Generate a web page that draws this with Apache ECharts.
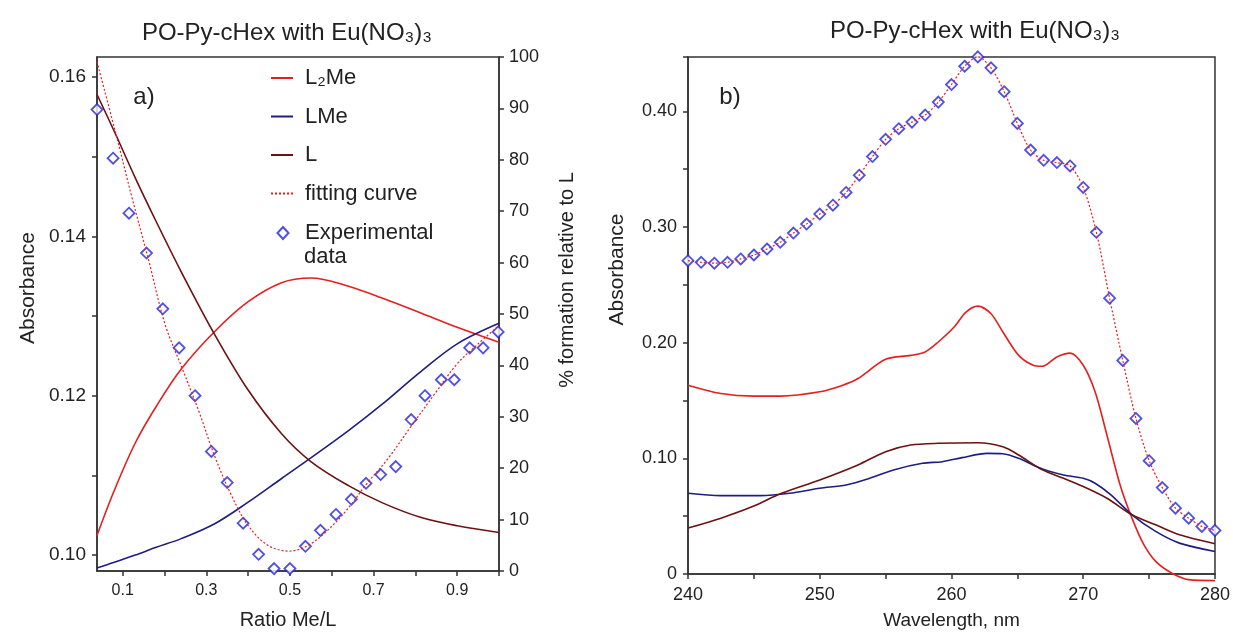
<!DOCTYPE html>
<html><head><meta charset="utf-8">
<script src="https://cdn.jsdelivr.net/npm/echarts@6/dist/echarts.min.js"></script>
<style>html,body{margin:0;padding:0;background:#fff}#c{width:1233px;height:635px}</style>
</head><body><div id="c"></div>
<script>
// ---------- Panel a data ----------
const ratioExp = [0.0385,0.077,0.115,0.157,0.196,0.235,0.273,0.312,0.350,0.388,0.425,0.462,0.500,0.537,0.573,0.610,0.647,0.682,0.717,0.753,0.790,0.823,0.862,0.893,0.930,0.962,0.998];
const absExp   = [0.1559,0.1498,0.1429,0.1379,0.1309,0.1260,0.1200,0.1130,0.1091,0.1040,0.1001,0.0983,0.0983,0.1011,0.1031,0.1051,0.1070,0.1090,0.1101,0.1111,0.1170,0.1200,0.1220,0.1220,0.1260,0.1260,0.1280];
const ratioFit = [0.0385,0.082,0.122,0.162,0.201,0.241,0.281,0.320,0.360,0.400,0.448,0.499,0.543,0.590,0.638,0.686,0.733,0.789,0.850,0.900,0.950,1.0];
const absFit   = [0.1619,0.1532,0.1449,0.1370,0.1290,0.1236,0.1182,0.1124,0.1075,0.1037,0.1012,0.1005,0.1012,0.1031,0.1058,0.1091,0.1120,0.1161,0.1205,0.1240,0.1265,0.1288];
const ratioSpec = [0.0385,0.08,0.13,0.18,0.24,0.32,0.40,0.48,0.55,0.64,0.72,0.81,0.90,1.0];
const pctL2Me  = [6.9,15.7,24.9,32.0,39.3,46.6,52.4,56.1,57.0,55.4,53.1,50.3,47.4,44.5];
const pctLMe   = [0.6,1.7,3.1,4.6,6.3,9.2,13.4,18.0,22.0,27.3,32.4,38.6,44.2,48.2];
const pctL     = [92.7,85.5,76.5,68.0,58.2,46.0,35.2,26.7,21.3,16.6,13.3,10.5,8.8,7.5];
const absTicksA = [0.10,0.11,0.12,0.13,0.14,0.15,0.16];
const absLabelsA = [0.10,0.12,0.14,0.16];
const ratioTicks = [0.1,0.2,0.3,0.4,0.5,0.6,0.7,0.8,0.9,1.0];
const ratioLabels = [0.1,0.3,0.5,0.7,0.9];

// ---------- Panel b data ----------
const wlExp = [240,241,242,243,244,245,246,247,248,249,250,251,252,253,254,255,256,257,258,259,260,261,262,263,264,265,266,267,268,269,270,271,272,273,274,275,276,277,278,279,280];
const absExpB = [0.2709,0.2695,0.2687,0.2695,0.2724,0.2758,0.2810,0.2868,0.2948,0.3026,0.3112,0.3189,0.3299,0.3448,0.3609,0.3758,0.3850,0.3907,0.3968,0.4080,0.4232,0.4390,0.4471,0.4376,0.4170,0.3896,0.3666,0.3577,0.3557,0.3528,0.3342,0.2954,0.2385,0.1847,0.1345,0.0980,0.0747,0.0569,0.0483,0.0411,0.0377];
const wlL2Me = [240,242.5,245,247,250,251.7,252.9,255,256.9,258,259,260.2,261.1,262,263,263.9,265.1,266.2,266.9,268,269,270,270.9,271.8,272.8,273.7,274.6,275.5,276.7,278,280];
const absL2MeB = [0.1632,0.1560,0.1538,0.1538,0.1575,0.1630,0.1690,0.1857,0.1890,0.1920,0.2006,0.2135,0.2265,0.2316,0.2250,0.2092,0.1890,0.1805,0.1796,0.1877,0.1910,0.1805,0.1575,0.1200,0.0770,0.0483,0.0253,0.0109,0.0009,-0.0049,-0.0057];
const wlL = [240,242.5,244.9,247.1,250,252.9,255,256.9,259,262,263.9,265.1,266.9,268.5,270,271.8,273.7,275.5,277.3,280];
const absLB = [0.0397,0.0483,0.0583,0.0698,0.0813,0.0943,0.1058,0.1115,0.1130,0.1135,0.1100,0.1029,0.0900,0.0828,0.0756,0.0655,0.0512,0.0425,0.0339,0.0262];
const wlLMe = [240,242.5,245.5,247.7,250,252,253.8,255.6,257.8,259.3,260.8,262.7,263.9,265.1,266.9,268.5,270,270.9,272.1,273.7,275.5,277.3,280];
const absLMeB = [0.0698,0.0678,0.0678,0.0698,0.0741,0.0770,0.0828,0.0900,0.0957,0.0971,0.1006,0.1043,0.1040,0.1000,0.0908,0.0856,0.0828,0.0785,0.0684,0.0512,0.0368,0.0267,0.0195];

const zip = (xs, ys) => xs.map((x, i) => [x, ys[i]]);

const FONT = "'Liberation Sans', Arial, sans-serif";
const AX = '#333';
const RED = '#e41f1f', NAVY = '#1e1e80', MAROON = '#6d1212', BLUE = '#2424dc';
const axisLine = {show: true, lineStyle: {color: AX, width: 1.5}};
const tick = {show: true, inside: false, length: 5, lineStyle: {color: AX, width: 1.5}};

const chart = echarts.init(document.getElementById('c'), null, {renderer: 'canvas'});
chart.setOption({
  animation: false,
  backgroundColor: '#fff',
  textStyle: {fontFamily: FONT},
  grid: [
    {left: 97, right: 734, top: 57, bottom: 59, show: true, borderColor: AX, borderWidth: 1.5, backgroundColor: 'transparent'},
    {left: 688, right: 16, top: 57, bottom: 59, show: true, borderColor: AX, borderWidth: 1.5, backgroundColor: 'transparent'}
  ],
  graphic: [
    {type: 'text', x: 287, y: 33, style: {text: 'PO-Py-cHex with Eu(NO₃)₃', font: '24px ' + FONT, fill: '#222', textAlign: 'center', textVerticalAlign: 'middle'}},
    {type: 'text', x: 975, y: 31, style: {text: 'PO-Py-cHex with Eu(NO₃)₃', font: '24px ' + FONT, fill: '#222', textAlign: 'center', textVerticalAlign: 'middle'}},
    {type: 'text', x: 144, y: 97, style: {text: 'a)', font: '24px ' + FONT, fill: '#222', textAlign: 'center', textVerticalAlign: 'middle'}},
    {type: 'text', x: 730, y: 97, style: {text: 'b)', font: '24px ' + FONT, fill: '#222', textAlign: 'center', textVerticalAlign: 'middle'}},
    {type: 'text', x: 304, y: 257, style: {text: 'data', font: '22px ' + FONT, fill: '#222', textAlign: 'left', textVerticalAlign: 'middle'}}
  ],
  legend: [
    {
      orient: 'vertical', left: 265, top: 61, itemWidth: 22, itemHeight: 12, itemGap: 14.5,
      selectedMode: false,
      itemStyle: {opacity: 0},
      textStyle: {fontSize: 22, lineHeight: 24, color: '#222', padding: [0, 0, 0, 7]},
      data: ['L₂Me', 'LMe', 'L', 'fitting curve']
    },
    {
      orient: 'vertical', left: 271.5, top: 216, itemWidth: 11, itemHeight: 12,
      selectedMode: false,
      formatter: n => n === 'Experimental data' ? 'Experimental' : n,
      textStyle: {fontSize: 22, lineHeight: 24, color: '#222', padding: [0, 0, 0, 11.5]},
      data: [{name: 'Experimental data', icon: 'diamond'}]
    }
  ],
  xAxis: [
    {
      gridIndex: 0, type: 'value', min: 0.0385, max: 1.0,
      axisLine: axisLine, splitLine: {show: false},
      axisTick: Object.assign({}, tick, {customValues: ratioTicks}),
      axisLabel: {customValues: ratioLabels, formatter: v => v.toFixed(1), fontSize: 16, color: '#222', margin: 12},
      name: 'Ratio Me/L', nameLocation: 'middle', nameGap: 39,
      nameTextStyle: {fontSize: 20, color: '#222', padding: [0, 20, 0, 0]}
    },
    {
      gridIndex: 1, type: 'value', min: 240, max: 280, interval: 5,
      axisLine: axisLine, splitLine: {show: false}, axisTick: tick,
      axisLabel: {formatter: v => (v % 10 === 0 ? String(v) : ''), fontSize: 18, color: '#222', margin: 12},
      name: 'Wavelength, nm', nameLocation: 'middle', nameGap: 37,
      nameTextStyle: {fontSize: 19, color: '#222'}
    }
  ],
  yAxis: [
    {
      gridIndex: 0, type: 'value', min: 0.098, max: 0.1625, position: 'left',
      axisLine: axisLine, splitLine: {show: false},
      axisTick: Object.assign({}, tick, {customValues: absTicksA}),
      axisLabel: {customValues: absLabelsA, formatter: v => v.toFixed(2), fontSize: 19, color: '#222', margin: 11},
      name: 'Absorbance', nameLocation: 'middle', nameRotate: 90, nameGap: 58,
      nameTextStyle: {fontSize: 21, color: '#222', padding: [0, 0, 0, 52]}
    },
    {
      gridIndex: 0, type: 'value', min: 0, max: 100, interval: 10, position: 'right',
      axisLine: axisLine, splitLine: {show: false}, axisTick: tick,
      axisLabel: {fontSize: 18, color: '#222', margin: 10},
      name: '% formation relative to L', nameLocation: 'middle', nameRotate: 90, nameGap: 58,
      nameTextStyle: {fontSize: 20, color: '#222', padding: [0, 0, 0, 68]}
    },
    {
      gridIndex: 1, type: 'value', min: 0, max: 0.447, interval: 0.05,
      axisLine: axisLine, splitLine: {show: false}, axisTick: tick,
      axisLabel: {
        formatter: v => { const k = Math.round(v * 100); return k === 0 ? '0' : (k % 10 === 0 ? (k / 100).toFixed(2) : ''); },
        fontSize: 18, color: '#222', margin: 11
      },
      name: 'Absorbance', nameLocation: 'middle', nameRotate: 90, nameGap: 60,
      nameTextStyle: {fontSize: 21, color: '#222', padding: [0, 0, 0, 92]}
    }
  ],
  series: [
    {name: 'L₂Me', type: 'line', xAxisIndex: 0, yAxisIndex: 1, data: zip(ratioSpec, pctL2Me), smooth: 0.35, symbol: 'none',
      lineStyle: {color: RED, width: 1.6}, itemStyle: {color: RED}},
    {name: 'LMe', type: 'line', xAxisIndex: 0, yAxisIndex: 1, data: zip(ratioSpec, pctLMe), smooth: 0.35, symbol: 'none',
      lineStyle: {color: NAVY, width: 1.6}, itemStyle: {color: NAVY}},
    {name: 'L', type: 'line', xAxisIndex: 0, yAxisIndex: 1, data: zip(ratioSpec, pctL), smooth: 0.35, symbol: 'none',
      lineStyle: {color: MAROON, width: 1.6}, itemStyle: {color: MAROON}},
    {name: 'fitting curve', type: 'line', xAxisIndex: 0, yAxisIndex: 0, data: zip(ratioFit, absFit), smooth: 0.35, symbol: 'none',
      lineStyle: {color: RED, width: 1.2, type: [2, 2]}, itemStyle: {color: RED}},
    {name: 'Experimental data', type: 'scatter', xAxisIndex: 0, yAxisIndex: 0, data: zip(ratioExp, absExp),
      symbol: 'diamond', symbolSize: 11, symbolKeepAspect: true, clip: false,
      itemStyle: {color: '#fff', borderColor: BLUE, borderWidth: 1.8}},

    {name: 'L₂Me', type: 'line', xAxisIndex: 1, yAxisIndex: 2, data: zip(wlL2Me, absL2MeB), smooth: 0.3, symbol: 'none', clip: false,
      lineStyle: {color: RED, width: 1.6}, itemStyle: {color: RED}},
    {name: 'LMe', type: 'line', xAxisIndex: 1, yAxisIndex: 2, data: zip(wlLMe, absLMeB), smooth: 0.3, symbol: 'none',
      lineStyle: {color: NAVY, width: 1.6}, itemStyle: {color: NAVY}},
    {name: 'L', type: 'line', xAxisIndex: 1, yAxisIndex: 2, data: zip(wlL, absLB), smooth: 0.3, symbol: 'none',
      lineStyle: {color: MAROON, width: 1.6}, itemStyle: {color: MAROON}},
    {name: 'fitting curve', type: 'line', xAxisIndex: 1, yAxisIndex: 2, data: zip(wlExp, absExpB), smooth: 0.3, symbol: 'none', clip: false,
      lineStyle: {color: RED, width: 1.2, type: [2, 2]}, itemStyle: {color: RED}},
    {name: 'Experimental data', type: 'scatter', xAxisIndex: 1, yAxisIndex: 2, data: zip(wlExp, absExpB),
      symbol: 'diamond', symbolSize: 11, symbolKeepAspect: true, clip: false,
      itemStyle: {color: '#fff', borderColor: BLUE, borderWidth: 1.8}}
  ]
});
</script>
</body></html>
